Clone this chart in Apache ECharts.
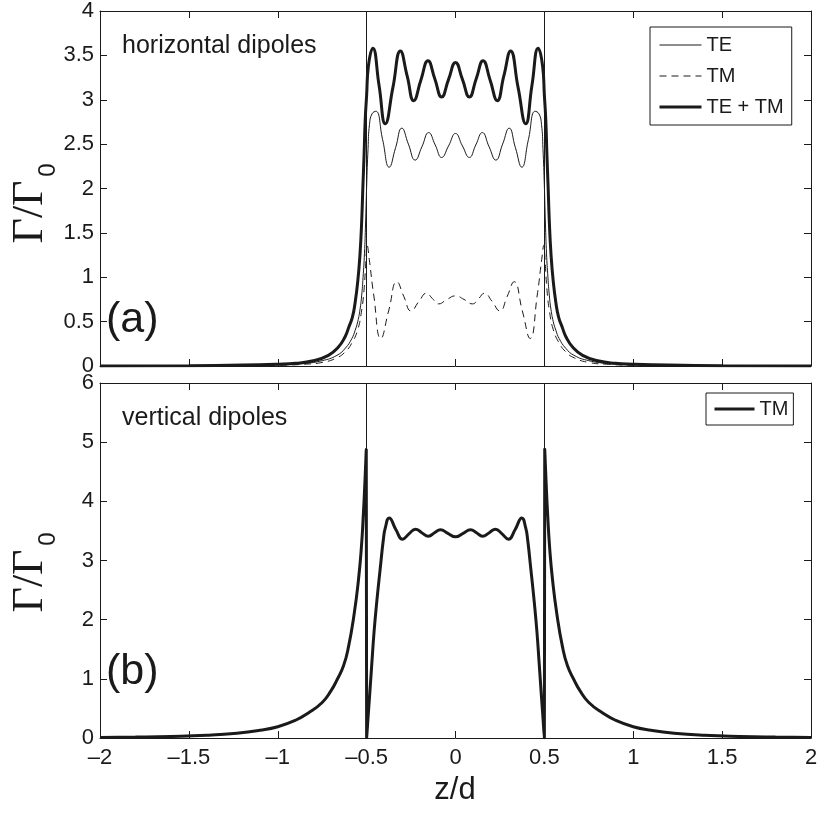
<!DOCTYPE html>
<html><head><meta charset="utf-8">
<script src="https://cdn.jsdelivr.net/npm/echarts@6/dist/echarts.min.js"></script>
<style>html,body{margin:0;padding:0;background:#fff}#c{width:822px;height:814px}</style>
</head><body><div id="c"></div>
<script>
// ---- tick values and labels ----
const xTicks = [-2, -1.5, -1, -0.5, 0, 0.5, 1, 1.5, 2];
const xTickLabels = ['–2', '–1.5', '–1', '–0.5', '0', '0.5', '1', '1.5', '2'];
const yTopTicks = [0, 0.5, 1, 1.5, 2, 2.5, 3, 3.5, 4];
const yTopLabels = ['0', '0.5', '1', '1.5', '2', '2.5', '3', '3.5', '4'];
const yBotTicks = [0, 1, 2, 3, 4, 5, 6];
const yBotLabels = ['0', '1', '2', '3', '4', '5', '6'];
const slabEdges = [-0.5, 0.5];

// ---- (a) horizontal dipoles: TE ----
const teZ = [-2, -1.6, -1.3, -1.0, -0.85, -0.75, -0.667, -0.62, -0.583, -0.565,
  -0.55, -0.537, -0.528, -0.52, -0.512, -0.506, -0.5, -0.492, -0.484, -0.47,
  -0.448, -0.41, -0.373, -0.337, -0.302, -0.265, -0.227, -0.189, -0.151, -0.114,
  -0.078, -0.039, 0, 0.039, 0.078,
  0.114, 0.151, 0.189, 0.227, 0.265, 0.302, 0.337, 0.373, 0.41, 0.448,
  0.47, 0.484, 0.492, 0.5, 0.506, 0.512, 0.52, 0.528, 0.537, 0.55,
  0.565, 0.583, 0.62, 0.667, 0.75, 0.85, 1.0, 1.3, 1.6, 2];
const teG = [0.001, 0.002, 0.005, 0.012, 0.03, 0.06, 0.12, 0.2, 0.31, 0.4,
  0.5, 0.64, 0.79, 1.0, 1.27, 1.6, 2.02, 2.45, 2.72, 2.84,
  2.87, 2.55, 2.24, 2.46, 2.68, 2.5, 2.32, 2.47, 2.63, 2.49,
  2.35, 2.48, 2.62, 2.48, 2.35,
  2.49, 2.63, 2.47, 2.32, 2.5, 2.68, 2.46, 2.24, 2.55, 2.87,
  2.84, 2.72, 2.45, 2.02, 1.6, 1.27, 1.0, 0.79, 0.64, 0.5,
  0.4, 0.31, 0.2, 0.12, 0.06, 0.03, 0.012, 0.005, 0.002, 0.001];

// ---- (a) horizontal dipoles: TM ----
const tmZ = [-2, -1.6, -1.3, -1.0, -0.85, -0.75, -0.67, -0.62, -0.58, -0.55,
  -0.53, -0.515, -0.505, -0.497, -0.485, -0.46, -0.42, -0.375, -0.33, -0.29,
  -0.25, -0.205, -0.163, -0.13, -0.095, -0.048, 0, 0.048, 0.095, 0.13,
  0.163, 0.205, 0.25, 0.29, 0.33, 0.375, 0.42, 0.46, 0.485, 0.497,
  0.505, 0.515, 0.53, 0.55, 0.58, 0.62, 0.67, 0.75, 0.85, 1.0,
  1.3, 1.6, 2];
const tmG = [0.001, 0.001, 0.003, 0.008, 0.02, 0.04, 0.09, 0.16, 0.27, 0.41,
  0.6, 0.85, 1.15, 1.36, 1.2, 0.8, 0.31, 0.63, 0.95, 0.78,
  0.62, 0.73, 0.82, 0.76, 0.70, 0.75, 0.79, 0.75, 0.70, 0.76,
  0.82, 0.73, 0.62, 0.78, 0.95, 0.63, 0.31, 0.8, 1.2, 1.36,
  1.15, 0.85, 0.6, 0.41, 0.27, 0.16, 0.09, 0.04, 0.02, 0.008,
  0.003, 0.001, 0.001];

// ---- (a) horizontal dipoles: TE + TM ----
const sumZ = [-2, -1.5, -1.2, -1.0, -0.9, -0.8, -0.715, -0.66, -0.621, -0.6,
  -0.58, -0.565, -0.55, -0.537, -0.528, -0.521, -0.514, -0.508, -0.5, -0.49,
  -0.465, -0.43, -0.395, -0.352, -0.31, -0.272, -0.235, -0.195, -0.155, -0.117,
  -0.078, -0.039, 0, 0.039, 0.078,
  0.117, 0.155, 0.195, 0.235, 0.272, 0.31, 0.352, 0.395, 0.43, 0.465,
  0.49, 0.5, 0.508, 0.514, 0.521, 0.528, 0.537, 0.55, 0.565, 0.58,
  0.6, 0.621, 0.66, 0.715, 0.8, 0.9, 1.0, 1.2, 1.5, 2];
const sumG = [0.001, 0.004, 0.01, 0.02, 0.03, 0.06, 0.12, 0.21, 0.33, 0.44,
  0.55, 0.71, 0.95, 1.27, 1.62, 2.02, 2.4, 2.77, 3.05, 3.38,
  3.58, 3.16, 2.73, 3.14, 3.55, 3.27, 2.99, 3.22, 3.44, 3.24,
  3.03, 3.23, 3.42, 3.23, 3.03,
  3.24, 3.44, 3.22, 2.99, 3.27, 3.55, 3.14, 2.73, 3.16, 3.58,
  3.38, 3.05, 2.77, 2.4, 2.02, 1.62, 1.27, 0.95, 0.71, 0.55,
  0.44, 0.33, 0.21, 0.12, 0.06, 0.03, 0.02, 0.01, 0.004, 0.001];

// ---- (b) vertical dipoles: TM ----
const vZ = [-2, -1.8, -1.6, -1.4, -1.23, -1.1, -1.0, -0.9, -0.83, -0.75,
  -0.7, -0.667, -0.63, -0.602, -0.57, -0.546, -0.53, -0.518, -0.51, -0.502,
  -0.5, -0.497, -0.493, -0.484, -0.471, -0.458, -0.443, -0.424, -0.406, -0.395,
  -0.373, -0.335, -0.298, -0.262, -0.225, -0.19, -0.152, -0.118, -0.085, -0.043,
  0, 0.043, 0.085, 0.118, 0.152, 0.19, 0.225, 0.262, 0.298, 0.335,
  0.373, 0.395, 0.406, 0.424, 0.443, 0.458, 0.471, 0.484, 0.493, 0.497,
  0.5, 0.502, 0.51, 0.518, 0.53, 0.546, 0.57, 0.602, 0.63, 0.667,
  0.7, 0.75, 0.83, 0.9, 1.0, 1.1, 1.23, 1.4, 1.6, 1.8, 2];
const vG = [0.01, 0.015, 0.025, 0.045, 0.08, 0.13, 0.19, 0.3, 0.42, 0.6,
  0.8, 0.98, 1.22, 1.54, 2.1, 2.67, 3.2, 3.8, 4.3, 4.88,
  0, 0.12, 0.3, 0.68, 1.25, 1.8, 2.3, 2.85, 3.35, 3.55,
  3.72, 3.52, 3.36, 3.45, 3.53, 3.47, 3.41, 3.47, 3.52, 3.46,
  3.40, 3.46, 3.52, 3.47, 3.41, 3.47, 3.53, 3.45, 3.36, 3.52,
  3.72, 3.55, 3.35, 2.85, 2.3, 1.8, 1.25, 0.68, 0.3, 0.12,
  0, 4.88, 4.3, 3.8, 3.2, 2.67, 2.1, 1.54, 1.22, 0.98,
  0.8, 0.6, 0.42, 0.3, 0.19, 0.13, 0.08, 0.045, 0.025, 0.015, 0.01];

// ---- chart ----
const INK = '#1a1a1a';
const FONT = '"Liberation Sans", Arial, Helvetica, sans-serif';
const SERIF = '"Liberation Serif", "Times New Roman", serif';
const DASH = [7, 5];
function pairs(z, g) { return z.map((v, i) => [v, g[i]]); }
function lab(ticks, labels) {
  return v => { const i = ticks.findIndex(t => Math.abs(t - v) < 1e-9); return i < 0 ? '' : labels[i]; };
}
function axis(kind, gi, pos, ticks, labels, showLabels) {
  return {
    type: 'value', gridIndex: gi, position: pos,
    min: ticks[0], max: ticks[ticks.length - 1], interval: ticks[1] - ticks[0],
    axisLine: { show: true, onZero: false, lineStyle: { color: INK, width: 1 } },
    axisTick: { show: true, inside: true, length: 7, lineStyle: { color: INK, width: 1 } },
    axisLabel: { show: showLabels, color: INK, fontFamily: FONT, fontSize: 22,
      margin: kind === 'x' ? 9 : 6, formatter: lab(ticks, labels) },
    splitLine: { show: false }
  };
}
const edgeLines = {
  silent: true, symbol: 'none', label: { show: false },
  lineStyle: { color: INK, width: 1, type: 'solid' },
  data: slabEdges.map(v => ({ xAxis: v }))
};
const lineBase = { type: 'line', symbol: 'none', showSymbol: false, smooth: 0.5, animation: false };
const centered = { textAlign: 'center', textVerticalAlign: 'middle', align: 'center', verticalAlign: 'middle' };

const option = {
  backgroundColor: '#fff',
  animation: false,
  grid: [
    { left: 100, top: 11, width: 711, height: 355 },
    { left: 100, top: 383, width: 711, height: 355 }
  ],
  xAxis: [
    axis('x', 0, 'bottom', xTicks, xTickLabels, false),
    axis('x', 0, 'top', xTicks, xTickLabels, false),
    axis('x', 1, 'bottom', xTicks, xTickLabels, true),
    axis('x', 1, 'top', xTicks, xTickLabels, false)
  ],
  yAxis: [
    axis('y', 0, 'left', yTopTicks, yTopLabels, true),
    axis('y', 0, 'right', yTopTicks, yTopLabels, false),
    axis('y', 1, 'left', yBotTicks, yBotLabels, true),
    axis('y', 1, 'right', yBotTicks, yBotLabels, false)
  ],
  legend: [
    { data: [
        { name: 'TE', lineStyle: { width: 1, color: INK, type: 'solid' } },
        { name: 'TM', lineStyle: { width: 1, color: INK, type: DASH } },
        { name: 'TE + TM', lineStyle: { width: 3, color: INK, type: 'solid' } }
      ],
      orient: 'vertical', left: 650, top: 27,
      padding: [8, 8, 8, 8], itemGap: 11, itemWidth: 42, itemHeight: 14,
      borderColor: INK, borderWidth: 1, backgroundColor: '#fff', selectedMode: false,
      itemStyle: { opacity: 0 },
      textStyle: { color: INK, fontFamily: FONT, fontSize: 20 } },
    { data: [{ name: 'TM vertical', lineStyle: { width: 3, color: INK, type: 'solid' } }],
      orient: 'vertical', left: 706, top: 393,
      padding: [6, 5, 6, 7], itemWidth: 40, itemHeight: 14,
      borderColor: INK, borderWidth: 1, backgroundColor: '#fff', selectedMode: false,
      itemStyle: { opacity: 0 },
      formatter: () => 'TM',
      textStyle: { color: INK, fontFamily: FONT, fontSize: 20 } }
  ],
  series: [
    Object.assign({}, lineBase, { name: 'TE', xAxisIndex: 0, yAxisIndex: 0,
      lineStyle: { color: INK, width: 1 }, itemStyle: { color: INK },
      data: pairs(teZ, teG), markLine: edgeLines }),
    Object.assign({}, lineBase, { name: 'TM', xAxisIndex: 0, yAxisIndex: 0,
      lineStyle: { color: INK, width: 1, type: DASH }, itemStyle: { color: INK },
      data: pairs(tmZ, tmG) }),
    Object.assign({}, lineBase, { name: 'TE + TM', xAxisIndex: 0, yAxisIndex: 0,
      lineStyle: { color: INK, width: 3 }, itemStyle: { color: INK },
      data: pairs(sumZ, sumG) }),
    Object.assign({}, lineBase, { name: 'TM vertical', xAxisIndex: 2, yAxisIndex: 2,
      lineStyle: { color: INK, width: 3 }, itemStyle: { color: INK },
      data: pairs(vZ, vG), markLine: edgeLines })
  ],
  graphic: [
    { type: 'text', left: 122, top: 34, style: { text: 'horizontal dipoles', font: '25px ' + FONT, fill: INK } },
    { type: 'text', left: 106, top: 299, style: { text: '(a)', font: '43px ' + FONT, fill: INK } },
    { type: 'text', left: 122, top: 406, style: { text: 'vertical dipoles', font: '25px ' + FONT, fill: INK } },
    { type: 'text', left: 106, top: 651, style: { text: '(b)', font: '43px ' + FONT, fill: INK } },
    { type: 'text', x: 30, y: 212, rotation: Math.PI / 2,
      style: Object.assign({ text: 'Γ/Γ', font: '44px ' + SERIF, fill: INK }, centered) },
    { type: 'text', x: 48, y: 170, rotation: Math.PI / 2,
      style: Object.assign({ text: '0', font: '24px ' + FONT, fill: INK }, centered) },
    { type: 'text', x: 30, y: 581, rotation: Math.PI / 2,
      style: Object.assign({ text: 'Γ/Γ', font: '44px ' + SERIF, fill: INK }, centered) },
    { type: 'text', x: 48, y: 539, rotation: Math.PI / 2,
      style: Object.assign({ text: '0', font: '24px ' + FONT, fill: INK }, centered) },
    { type: 'text', x: 455, y: 790,
      style: Object.assign({ text: 'z/d', font: '31px ' + FONT, fill: INK }, centered) }
  ]
};
const chart = echarts.init(document.getElementById('c'));
chart.setOption(option);
</script>
</body></html>
